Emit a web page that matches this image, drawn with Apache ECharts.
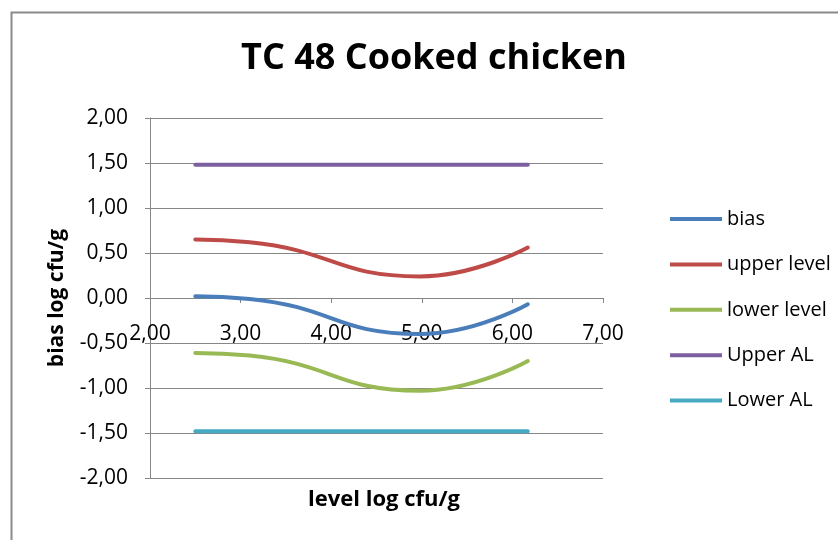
<!DOCTYPE html>
<html>
<head>
<meta charset="utf-8">
<script src="https://cdn.jsdelivr.net/npm/echarts@6/dist/echarts.min.js"></script>
<style>html,body{margin:0;padding:0;background:#fff;}#c{width:838px;height:540px;}</style>
</head>
<body>
<div id="c"></div>
<script>
var levels = [2.5, 3.1, 4.98, 6.17];
var bias = [0.02, -0.01, -0.40, -0.07];
var upperLevel = [0.65, 0.62, 0.24, 0.56];
var lowerLevel = [-0.61, -0.64, -1.03, -0.70];
var upperAL = [1.48, 1.48, 1.48, 1.48];
var lowerAL = [-1.48, -1.48, -1.48, -1.48];
var seriesNames = ['bias', 'upper level', 'lower level', 'Upper AL', 'Lower AL'];
var colors = ['#4a7ebb', '#be4b48', '#98b954', '#7d60a0', '#46aac5'];
var xTicks = [2, 7, 1];   // min, max, interval
var yTicks = [-2, 2, 0.5];

function pairs(ys){ return levels.map(function(x,i){ return [x, ys[i]]; }); }
var allValues = [bias, upperLevel, lowerLevel, upperAL, lowerAL];
var fmt = function(v){ return v.toFixed(2).replace('.', ','); };
var FONT = 'Open Sans';

var chart = echarts.init(document.getElementById('c'), null, {renderer:'canvas'});
var gridTop = 118, gridBottom = 62, H = 540;
var plotH = H - gridTop - gridBottom;
// pixel distance from bottom of grid to the y = 0 line (x axis crosses at 0)
var zeroOffset = plotH * (0 - yTicks[0]) / (yTicks[1] - yTicks[0]);
chart.setOption({
  animation: false,
  backgroundColor: '#fff',
  color: colors,
  title: {
    text: 'TC 48 Cooked chicken', left: 429, top: 36, textAlign: 'center',
    textStyle: {fontFamily: FONT, fontWeight: 'bold', fontSize: 36, color: '#000'}
  },
  grid: {left: 150, right: 235, top: gridTop, bottom: gridBottom},
  legend: {
    orient: 'vertical', left: 665, top: 204, itemGap: 25.4,
    itemWidth: 52, itemHeight: 4, icon: 'rect',
    textStyle: {fontFamily: FONT, fontSize: 20, color: '#000'},
    data: seriesNames
  },
  xAxis: {
    type: 'value', min: xTicks[0], max: xTicks[1], interval: xTicks[2],
    offset: -zeroOffset,
    axisLine: {onZero: false, lineStyle: {color: '#868686', width: 1}},
    axisTick: {show: true, length: 5, lineStyle: {color: '#868686'}},
    axisLabel: {fontFamily: FONT, fontSize: 21, color: '#000', margin: 26, formatter: fmt},
    splitLine: {show: false}
  },
  yAxis: {
    type: 'value', min: yTicks[0], max: yTicks[1], interval: yTicks[2],
    axisLine: {show: true, lineStyle: {color: '#868686', width: 1}},
    axisTick: {show: true, length: 5, lineStyle: {color: '#868686'}},
    axisLabel: {fontFamily: FONT, fontSize: 21, color: '#000', margin: 22, formatter: fmt},
    splitLine: {show: true, lineStyle: {color: '#868686', width: 1}}
  },
  graphic: [
    {type: 'rect', left: 9, top: 10, shape: {width: 860, height: 560},
     style: {fill: 'none', stroke: '#8a8a8a', lineWidth: 2}, silent: true},
    {type: 'text', x: 57, y: 298, rotation: Math.PI/2,
     style: {text: 'bias log cfu/g', fontFamily: FONT, fontWeight: 'bold', fontSize: 21, fill: '#000',
             textAlign: 'center', textVerticalAlign: 'middle'}},
    {type: 'text', x: 384, y: 500,
     style: {text: 'level log cfu/g', fontFamily: FONT, fontWeight: 'bold', fontSize: 22, fill: '#000',
             textAlign: 'center', textVerticalAlign: 'middle'}}
  ],
  series: seriesNames.map(function(n, i){
    return {
      name: n, type: 'line', data: pairs(allValues[i]),
      smooth: i < 3 ? 0.5 : false, showSymbol: false, symbol: 'none',
      lineStyle: {width: 4, color: colors[i], cap: 'round'},
      itemStyle: {color: colors[i]}
    };
  })
});
</script>
</body>
</html>
